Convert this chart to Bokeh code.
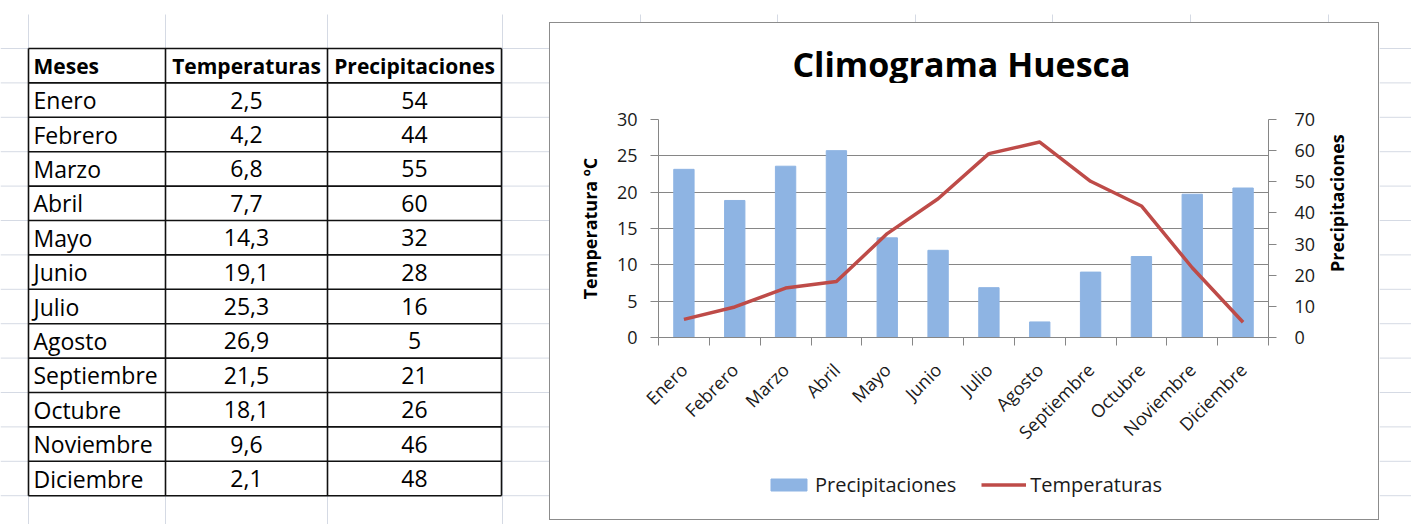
import math
from bokeh.plotting import figure
from bokeh.models import (Range1d, LinearAxis, FixedTicker, Legend, LegendItem,
                          ColumnDataSource, Column, Row)
from bokeh.embed import file_html
from bokeh.resources import INLINE
from bokeh.core.properties import value

# ---------------- data ----------------
months = ["Enero", "Febrero", "Marzo", "Abril", "Mayo", "Junio", "Julio",
          "Agosto", "Septiembre", "Octubre", "Noviembre", "Diciembre"]
temperaturas = [2.5, 4.2, 6.8, 7.7, 14.3, 19.1, 25.3, 26.9, 21.5, 18.1, 9.6, 2.1]
precipitaciones = [54, 44, 55, 60, 32, 28, 16, 5, 21, 26, 46, 48]
headers = ["Meses", "Temperaturas", "Precipitaciones"]
title_text = "Climograma Huesca"
temp_label = "Temperatura ºC"
prec_label = "Precipitaciones"
temp_ticks = [0, 5, 10, 15, 20, 25, 30]
prec_ticks = [0, 10, 20, 30, 40, 50, 60, 70]

FONT = "Open Sans"
SHEET_GRID = "#D5DAE4"
AXIS_GRAY = "#868686"
BAR_COLOR = "#8EB4E3"
LINE_COLOR = "#BE4B48"
TEXT_COLOR = "#1a1a1a"

# ---------------- spreadsheet geometry (page pixels) ----------------
row_top, row_h, n_rows = 48, 34.4, 13
col_edges = [28, 165, 327, 501]
sheet_vx = [28, 165, 327, 502, 640, 777, 915, 1052, 1190, 1328]
sheet_hy = [row_top + k * row_h for k in range(15)]


def blank_fig(x0, x1, y0, y1):
    f = figure(width=x1 - x0, height=y1 - y0, x_range=Range1d(x0, x1), y_range=Range1d(y1, y0),
               output_backend="svg", toolbar_location=None, min_border=0,
               x_axis_location=None, y_axis_location=None)
    f.grid.visible = False
    f.outline_line_color = None
    return f


# ---------------- table ----------------
tbl = blank_fig(0, 549, 0, 524)
tbl.segment(x0=0, x1=549, y0=sheet_hy, y1=sheet_hy, line_color=SHEET_GRID, line_width=1)
vx_l = [v for v in sheet_vx if v < 549]
tbl.segment(x0=vx_l, x1=vx_l, y0=14, y1=524, line_color=SHEET_GRID, line_width=1)

table_bottom = row_top + n_rows * row_h
hy = [row_top + k * row_h for k in range(n_rows + 1)]
tbl.segment(x0=col_edges[0], x1=col_edges[-1], y0=hy, y1=hy, line_color="#111111", line_width=1.6)
tbl.segment(x0=col_edges, x1=col_edges, y0=row_top, y1=table_bottom, line_color="#111111", line_width=1.6)

centers_c = [(col_edges[i] + col_edges[i + 1]) / 2 for i in range(3)]
hdr_y = row_top + row_h / 2
tbl.text(x=[col_edges[0] + 5], y=[hdr_y], text=[headers[0]], text_font=value(FONT),
         text_font_style="bold", text_font_size="21px", text_align="left",
         text_baseline="middle", text_color="black")
tbl.text(x=centers_c[1:], y=[hdr_y, hdr_y], text=headers[1:], text_font=value(FONT),
         text_font_style="bold", text_font_size="21px", text_align="center",
         text_baseline="middle", text_color="black")

ys = [row_top + (k + 1.5) * row_h for k in range(12)]
tsrc = ColumnDataSource(dict(
    m=months, t=[f"{v:.1f}".replace(".", ",") for v in temperaturas],
    p=[str(v) for v in precipitaciones], y=ys,
    x0=[col_edges[0] + 5] * 12, x1=[centers_c[1]] * 12, x2=[centers_c[2]] * 12))
for col, xcol, al in (("m", "x0", "left"), ("t", "x1", "center"), ("p", "x2", "center")):
    tbl.text(x=xcol, y="y", text=col, source=tsrc, text_font=value(FONT), text_font_size="23px",
             text_align=al, text_baseline="middle", text_color="black")

# ---------------- sheet strips around the chart ----------------
top_strip = blank_fig(549, 1377, 0, 22)
vx_c = [v for v in sheet_vx if 549 < v < 1377]
top_strip.segment(x0=vx_c, x1=vx_c, y0=14, y1=22, line_color=SHEET_GRID, line_width=1)

bot_strip = blank_fig(549, 1377, 518, 524)
bot_strip.segment(x0=vx_c, x1=vx_c, y0=518, y1=524, line_color=SHEET_GRID, line_width=1)

strip = blank_fig(1377, 1409, 0, 524)
strip.segment(x0=1377, x1=1409, y0=sheet_hy, y1=sheet_hy, line_color=SHEET_GRID, line_width=1)

# ---------------- chart title strip ----------------
TT_H = 60
ttl = blank_fig(0, 828, 0, TT_H)
ttl.text(x=[411], y=[40], text=[title_text], text_font=value(FONT), text_font_style="bold",
         text_font_size="34px", text_align="center", text_baseline="middle",
         text_color="black")

# ---------------- chart ----------------
CH_H = 378          # chart canvas height
B_TOP, B_BOT = 36, 124
xs = [i + 0.5 for i in range(len(months))]
p = figure(width=768, height=CH_H, x_range=Range1d(0, len(months)), y_range=Range1d(0, 30),
           output_backend="svg", toolbar_location=None,
           min_border_left=108, min_border_right=50, min_border_top=B_TOP, min_border_bottom=B_BOT,
           x_axis_location=None, y_axis_location=None)
p.extra_y_ranges = {"prec": Range1d(0, 70)}
p.outline_line_color = None
p.xgrid.visible = False


def style_axis(ax):
    ax.axis_line_color = AXIS_GRAY
    ax.major_tick_line_color = AXIS_GRAY
    ax.minor_tick_line_color = AXIS_GRAY
    ax.major_label_text_font = FONT
    ax.major_label_text_font_size = "18px"
    ax.major_label_text_color = TEXT_COLOR
    ax.axis_label_text_font = FONT
    ax.axis_label_text_font_size = "18px"
    ax.axis_label_text_font_style = "bold"
    ax.axis_label_text_color = "black"


left = LinearAxis(ticker=FixedTicker(ticks=temp_ticks), axis_label=temp_label)
style_axis(left)
left.major_tick_out = 8
left.major_tick_in = 0
left.minor_tick_out = 0
left.major_label_standoff = 13
left.axis_label_standoff = 12
p.add_layout(left, "left")

right = LinearAxis(y_range_name="prec", ticker=FixedTicker(ticks=prec_ticks))
style_axis(right)
right.major_tick_out = 8
right.major_tick_in = 0
right.minor_tick_out = 0
right.major_label_standoff = 18
p.add_layout(right, "right")

bottom = LinearAxis(ticker=FixedTicker(ticks=xs, minor_ticks=list(range(len(months) + 1))))
style_axis(bottom)
bottom.major_tick_out = 0
bottom.major_tick_in = 0
bottom.minor_tick_out = 8
bottom.minor_tick_in = 0
bottom.major_label_overrides = {x: m for x, m in zip(xs, months)}
bottom.major_label_orientation = math.pi / 4
bottom.major_label_standoff = 21
p.add_layout(bottom, "below")

p.ygrid.ticker = FixedTicker(ticks=temp_ticks)
p.ygrid.grid_line_color = AXIS_GRAY
p.ygrid.grid_line_width = 1

bars = p.vbar(x=xs, top=precipitaciones, width=0.4, y_range_name="prec",
              fill_color=BAR_COLOR, line_color=BAR_COLOR)
line = p.line(x=xs, y=temperaturas, line_color=LINE_COLOR, line_width=3.5, line_join="round")

# right-hand axis title (reads bottom-to-top, centred on the plot area)
tfig = blank_fig(0, 60, 0, CH_H)
frame_mid = B_TOP + (CH_H - B_TOP - B_BOT) / 2
tfig.text(x=[18], y=[frame_mid], text=[prec_label], angle=math.pi / 2,
          text_font=value(FONT), text_font_style="bold", text_font_size="18px",
          text_align="center", text_baseline="middle", text_color="black")

# ---------------- legend strip (own figure, below the chart) ----------------
# the same series are attached here but lie far below this strip's y-range,
# so only their legend swatches are visible
lg = figure(width=828, height=58, x_range=Range1d(0, len(months)), y_range=Range1d(1000, 1001),
            output_backend="svg", toolbar_location=None, min_border=0,
            x_axis_location=None, y_axis_location=None)
lg.grid.visible = False
lg.outline_line_color = None
lg_bar = lg.vbar(x=xs, top=precipitaciones, width=0.4, fill_color=BAR_COLOR, line_color=BAR_COLOR)
lg_line = lg.line(x=xs, y=temperaturas, line_color=LINE_COLOR, line_width=3.5)
legend = Legend(items=[LegendItem(label="Precipitaciones", renderers=[lg_bar]),
                       LegendItem(label="Temperaturas", renderers=[lg_line])],
                orientation="horizontal", location="top_center")
legend.glyph_width = 45
legend.glyph_height = 15
legend.label_standoff = 4
legend.spacing = 25
legend.padding = 0
legend.margin = 10
legend.border_line_color = None
legend.background_fill_alpha = 0
legend.label_text_font = FONT
legend.label_text_font_size = "20px"
legend.label_text_color = TEXT_COLOR
lg.add_layout(legend)

chart_box = Column(children=[ttl, Row(children=[p, tfig]), lg],
                   styles={"border": "1.5px solid #8C8C8C"})
layout = Row(children=[tbl, Column(children=[top_strip, chart_box, bot_strip]), strip])
open("out.html", "w").write(file_html(layout, INLINE))
